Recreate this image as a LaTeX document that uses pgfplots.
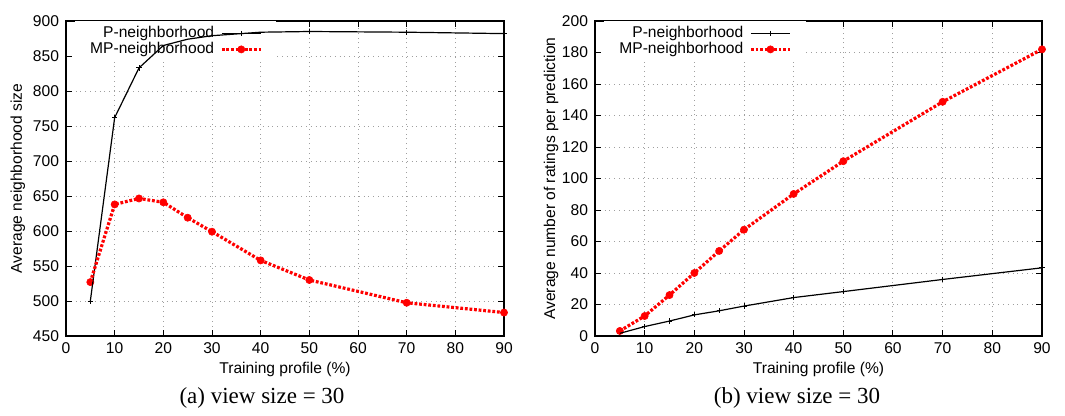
\documentclass[border=0pt]{standalone}
\usepackage{pgfplots}
\pgfplotsset{compat=1.18}
\usepackage{fontspec}
\setmainfont{Liberation Sans}
\newfontfamily\capfont{Liberation Serif}

% curves above the legend (gnuplot style): an extra top layer for the plots
\pgfplotsset{
  layers/gplayers/.define layer set={
    axis background,axis grid,axis ticks,axis lines,axis tick labels,
    pre main,main,axis descriptions,axis foreground,curves}{},
}

\pgfplotsset{
  gp/.style={
    set layers=gplayers,
    scale only axis,
    height=157.5pt,
    xmin=0, xmax=90,
    xtick={0,10,...,90},
    grid=major,
    major grid style={gray!75, dotted, line width=0.5pt},
    tick align=inside,
    major tick length=3pt,
    axis line style={line width=0.7pt},
    every tick/.style={black, line width=0.5pt},
    tick label style={font=\fontsize{7.8}{9}\selectfont},
    label style={font=\fontsize{7.8}{9}\selectfont},
    /pgf/number format/assume math mode=true,
    /pgf/number format/1000 sep={},
    xlabel={Training profile (\%)},
    xlabel style={at={(axis description cs:0.5,-0.105)}, anchor=center},
    clip=false,
    legend cell align=right,
    legend plot pos=right,
    legend style={anchor=north west, at={(0.02,1)}, draw=none, fill=white,
      font=\fontsize{7.8}{9}\selectfont, inner xsep=7pt, inner ysep=2pt,
      row sep=0pt, column sep=2.5pt,
      nodes={inner sep=0.5pt, text height=5.5pt, text depth=1.5pt}},
    legend image code/.code={
      \draw[mark repeat=2,mark phase=2] plot coordinates {(0pt,0pt) (9.75pt,0pt) (19.5pt,0pt)};},
  },
  pline/.style={on layer=curves, black, line width=0.6pt, mark=+, mark size=1.3pt, mark options={solid, line width=0.5pt}},
  mpline/.style={on layer=curves, red, line width=1.6pt, dash pattern=on 1.4pt off 0.9pt, mark=*, mark size=1.8pt, mark options={solid, fill=red, draw=red, line width=0.3pt}},
}

\begin{document}
\begin{tikzpicture}
\path (0,0) rectangle (532.5pt,-205pt);

\begin{axis}[gp, at={(33pt,-168pt)}, anchor=south west, width=219pt,
  ymin=450, ymax=900, ytick={450,500,...,900},
  ylabel={Average neighborhood size},
  ylabel style={at={(axis description cs:-0.11,0.5)}, anchor=center}]
\addplot[pline] coordinates {(5,500) (10,762) (15,833) (20,865) (25,874) (30,879) (40,884) (50,885) (70,884) (90,882)};
\addplot[mpline] coordinates {(5,527) (10,638) (15,646.5) (20,641) (25,619) (30,599) (40,558) (50,530) (70,497.5) (90,483.5)};
\legend{P-neighborhood, MP-neighborhood}
\end{axis}

\begin{axis}[gp, at={(297.5pt,-168pt)}, anchor=south west, width=223.5pt,
  ymin=0, ymax=200, ytick={0,20,...,200},
  ylabel={Average number of ratings per prediction},
  ylabel style={at={(axis description cs:-0.098,0.5)}, anchor=center}]
\addplot[pline] coordinates {(5,1.7) (10,6) (15,9.5) (20,13.4) (25,16) (30,19) (40,24.4) (50,28.2) (70,35.9) (90,43.3)};
\addplot[mpline] coordinates {(5,3.2) (10,12.7) (15,26) (20,40) (25,54) (30,67.5) (40,90.2) (50,111) (70,148.7) (90,182)};
\legend{P-neighborhood, MP-neighborhood}
\end{axis}

\node[font=\capfont\fontsize{11.5}{13}\selectfont, anchor=center] at (131pt,-199pt) {(a) view size = 30};
\node[font=\capfont\fontsize{11.5}{13}\selectfont, anchor=center] at (398.5pt,-199pt) {(b) view size = 30};
\end{tikzpicture}
\end{document}
